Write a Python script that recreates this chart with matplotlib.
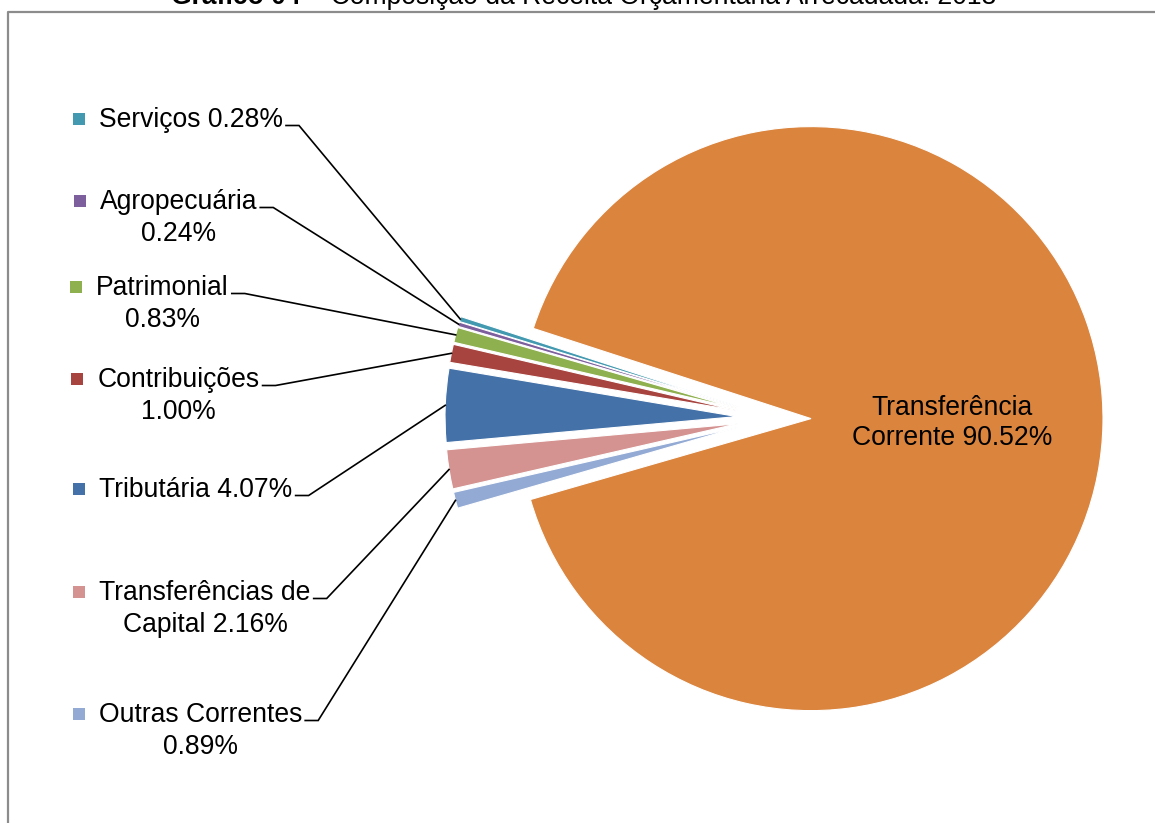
import matplotlib
matplotlib.use("Agg")
import matplotlib.pyplot as plt
from matplotlib.patches import Rectangle
import numpy as np

# ---- data ----
categories = ["Serviços", "Agropecuária", "Patrimonial", "Contribuições",
              "Tributária", "Transferências de Capital", "Outras Correntes",
              "Transferência Corrente"]
values = [0.28, 0.24, 0.83, 1.00, 4.07, 2.16, 0.89, 90.52]
colors = ["#4299B0", "#7D5F9E", "#8EB04E", "#A8443F",
          "#4472A8", "#D49391", "#93ABD4", "#DA843E"]
title_bold = "Gráfico 04"
title_rest = " – Composição da Receita Orçamentária Arrecadada: 2013"

# ---- layout (pixel coordinates, y measured from top) ----
W, H = 1155, 823
def P(y):
    return H - y

FS = 19.1
FONT = "Liberation Sans"
plt.rcParams["font.family"] = [FONT, "DejaVu Sans"]

fig = plt.figure(figsize=(W / 100, H / 100), dpi=100)
ax = fig.add_axes([0, 0, 1, 1])

R = 292
CX, CY = 774, 418
EXPL = 37

wedges, _ = ax.pie(values, colors=colors, startangle=162, counterclock=True,
                   explode=[EXPL] * len(values), radius=R,
                   center=(CX, P(CY)),
                   wedgeprops=dict(edgecolor="white", linewidth=0.8))
ax.set_xlim(0, W)
ax.set_ylim(0, H)
ax.set_aspect("equal")
ax.axis("off")

def label_lines(cat, val, split):
    full = f"{cat} {val:.2f}%"
    if split is None:
        return [full]
    words = full.split(" ")
    return [" ".join(words[:split]), " ".join(words[split:])]

# (split, center x, first baseline y, line spacing)
layout = [
    (None, 191, 127, 31.5),
    (1, 178.5, 209, 32),
    (1, 162.5, 295, 32),
    (1, 178.5, 387, 31.5),
    (None, 196, 497, 31.5),
    (2, 205, 600, 31.7),
    (2, 200.5, 722, 31.5),
    (1, 952, 415, 29.5),
]

fig.canvas.draw()
renderer = fig.canvas.get_renderer()

for i, (cat, val, col) in enumerate(zip(categories, values, colors)):
    split, cx, by, sp = layout[i]
    lines = label_lines(cat, val, split)
    texts = []
    for j, ln in enumerate(lines):
        t = ax.text(cx, P(by + j * sp), ln, ha="center", va="baseline",
                    fontsize=FS, color="black", family=[FONT, "DejaVu Sans"])
        texts.append(t)
    if i == len(categories) - 1:
        continue
    ext = texts[0].get_window_extent(renderer)
    inv = ax.transData.inverted()
    (x0, _), (x1, _) = inv.transform([[ext.x0, ext.y0], [ext.x1, ext.y1]])
    s = 12
    ax.add_patch(Rectangle((x0 - 20 - s / 2, P(by - 8.5) - s / 2), s, s,
                           facecolor=col, edgecolor="none"))
    w = wedges[i]
    th = np.deg2rad(0.5 * (w.theta1 + w.theta2))
    ex = w.center[0] + w.r * np.cos(th)
    ey = w.center[1] + w.r * np.sin(th)
    lx0 = x1 + 3
    ly = P(by - 1.5)
    ax.plot([lx0, lx0 + 13, ex], [ly, ly, ey], color="black", lw=1.2,
            solid_joinstyle="miter")

# frame border (gray), partly off-canvas
ax.plot([7.5, 7.5, W + 5], [-5, P(11.5), P(11.5)], color="#8C8C8C", lw=1.6,
        clip_on=False)

# title (partly cut off at the top, as in the reference)
t1 = ax.text(171, P(4), title_bold, ha="left", va="baseline", fontsize=FS,
             fontweight="bold", family=[FONT, "DejaVu Sans"], clip_on=False)
fig.canvas.draw()
e1 = t1.get_window_extent(fig.canvas.get_renderer())
xb = ax.transData.inverted().transform([[e1.x1, e1.y0]])[0][0]
ax.text(xb, P(4), title_rest, ha="left", va="baseline", fontsize=FS,
        family=[FONT, "DejaVu Sans"], clip_on=False)

fig.savefig("out.png", dpi=100)
